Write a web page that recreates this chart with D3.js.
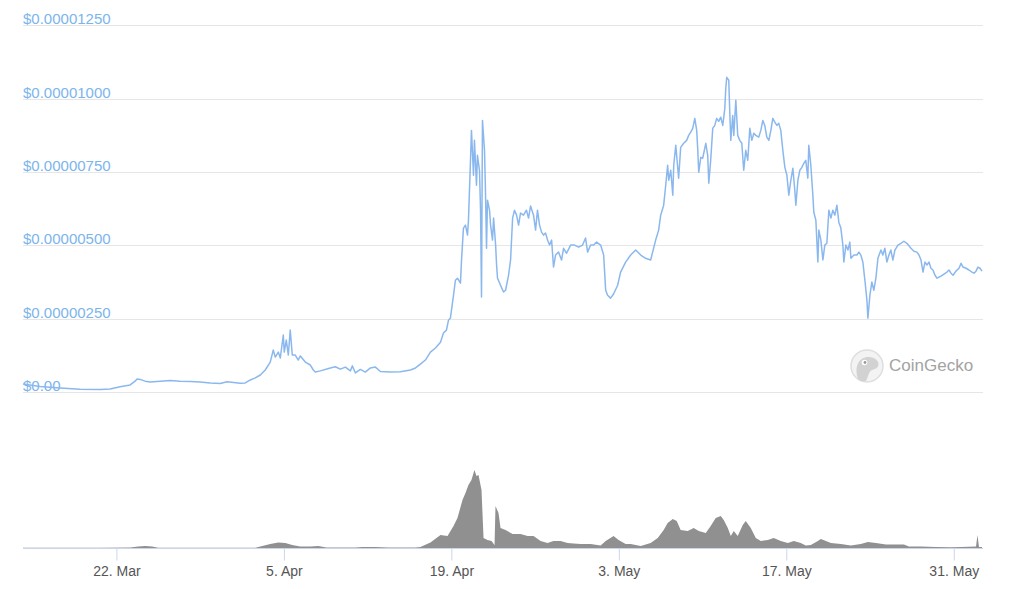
<!DOCTYPE html>
<html>
<head>
<meta charset="utf-8">
<script src="https://cdn.jsdelivr.net/npm/d3@7"></script>
<style>
  html, body { margin: 0; padding: 0; background: #ffffff; }
  svg { display: block; }
</style>
</head>
<body>
<svg id="chart" width="1024" height="589"></svg>
<script>
// ---- DATA ----
// Time is in days since 2021-03-14 00:00 UTC
const startDate = Date.UTC(2021, 2, 14);
// Price in millionths of a US dollar
const priceDays = [0.19,1.62,3.29,4.96,6.64,7.47,8.31,9.15,9.56,9.73,9.98,10.40,10.82,11.66,12.49,13.33,14.17,15.00,15.84,16.68,17.26,18.35,18.77,19.19,19.61,20.03,20.44,20.86,21.11,21.28,21.53,21.70,21.95,22.03,22.20,22.37,22.53,22.70,22.95,23.20,23.37,23.79,24.21,24.46,24.63,25.05,25.88,26.30,26.72,27.14,27.56,27.72,27.98,28.39,28.81,29.23,29.65,30.07,30.90,31.74,32.58,33.00,33.41,33.83,34.25,34.67,35.09,35.34,35.59,35.76,35.92,36.18,36.34,36.51,36.76,36.85,37.01,37.18,37.35,37.43,37.60,37.68,37.85,37.93,38.10,38.18,38.35,38.44,38.52,38.60,38.77,38.85,38.94,39.02,39.19,39.28,39.44,39.53,39.70,39.78,39.86,40.11,40.36,40.53,40.78,40.95,41.12,41.28,41.45,41.62,41.78,42.03,42.28,42.45,42.62,42.87,43.04,43.20,43.37,43.54,43.71,43.87,44.04,44.21,44.38,44.54,44.71,44.96,45.21,45.38,45.63,45.97,46.30,46.64,46.97,47.22,47.39,47.64,47.89,48.14,48.48,48.73,48.90,49.06,49.31,49.56,49.90,50.15,50.57,50.99,51.41,51.83,52.24,52.66,53.08,53.33,53.50,53.75,53.92,54.08,54.17,54.34,54.51,54.59,54.76,55.00,55.17,55.42,55.67,55.84,56.01,56.18,56.35,56.51,56.60,56.68,56.85,57.01,57.27,57.43,57.52,57.68,57.85,58.02,58.18,58.35,58.52,58.69,58.86,58.94,59.02,59.19,59.27,59.36,59.52,59.61,59.78,59.94,60.11,60.28,60.44,60.61,60.78,60.95,61.12,61.28,61.45,61.70,61.87,62.04,62.20,62.37,62.54,62.71,62.87,63.04,63.21,63.37,63.54,63.71,63.88,64.05,64.21,64.38,64.55,64.71,64.80,64.97,65.13,65.30,65.47,65.63,65.80,65.88,66.05,66.22,66.30,66.47,66.64,66.72,66.89,67.06,67.22,67.39,67.56,67.73,67.89,68.06,68.23,68.39,68.56,68.73,68.81,68.98,69.15,69.31,69.40,69.65,69.90,70.07,70.23,70.40,70.57,70.74,70.82,70.99,71.15,71.32,71.49,71.66,71.91,72.07,72.24,72.41,72.58,72.74,72.91,73.08,73.33,73.58,73.83,74.08,74.42,74.67,74.92,75.09,75.26,75.43,75.59,75.76,75.93,76.09,76.26,76.43,76.60,76.77,76.93,77.18,77.43,77.60,77.77,77.94,78.18,78.44,78.61,78.77,79.02,79.27,79.52,79.69,79.86,80.02,80.19,80.36];
const prices = [0.27,0.19,0.14,0.09,0.085,0.10,0.18,0.24,0.37,0.44,0.43,0.37,0.34,0.37,0.39,0.37,0.36,0.34,0.31,0.29,0.35,0.30,0.31,0.41,0.48,0.58,0.75,1.02,1.43,1.19,1.36,1.16,1.94,1.36,1.77,1.26,2.11,1.26,1.26,1.09,1.23,1.02,0.92,0.75,0.68,0.72,0.82,0.86,0.78,0.85,0.72,0.89,0.65,0.77,0.68,0.82,0.85,0.70,0.68,0.69,0.75,0.82,0.95,1.09,1.36,1.50,1.70,2.01,2.11,2.45,2.52,3.30,3.81,3.88,3.71,4.50,5.59,5.69,5.35,5.86,7.90,8.92,7.39,8.58,7.05,8.07,7.56,6.20,3.24,9.26,8.24,6.88,4.90,6.54,6.20,5.69,5.18,5.93,5.01,4.33,3.88,3.64,3.41,3.47,3.98,4.50,5.93,6.20,6.03,5.69,6.10,6.03,6.20,5.93,6.34,6.03,5.52,6.20,5.69,5.45,5.35,5.42,5.18,5.01,5.18,4.26,4.67,4.77,4.50,4.90,4.73,5.01,5.01,4.94,5.01,5.25,4.77,5.01,5.01,5.11,5.01,4.67,3.47,3.30,3.20,3.34,3.64,4.09,4.43,4.67,4.84,4.67,4.56,4.50,5.18,5.52,6.03,6.37,7.05,7.73,7.22,7.56,6.71,7.73,8.41,7.29,8.34,8.48,8.58,8.75,8.86,8.99,9.33,8.92,8.24,7.49,8.00,7.97,8.48,8.07,7.12,7.90,8.99,9.09,9.33,9.23,9.37,9.09,9.67,10.35,10.73,10.63,9.60,8.58,9.43,8.75,9.95,8.75,8.58,8.48,7.56,8.24,7.90,8.99,8.58,8.82,8.75,8.69,8.92,9.26,9.09,8.69,8.58,8.92,9.33,9.20,9.09,9.16,8.92,8.24,7.66,7.39,6.71,7.22,7.63,6.88,6.37,7.22,7.56,7.66,7.80,7.90,7.29,8.41,7.73,6.71,6.13,5.86,4.43,5.52,5.18,4.50,5.01,5.07,6.20,5.93,6.20,6.03,6.37,5.79,5.59,5.01,4.43,5.01,4.84,5.11,4.56,4.67,4.67,4.77,4.67,4.43,3.81,3.13,2.52,3.30,3.75,3.47,3.88,4.56,4.84,4.67,4.90,4.43,4.67,4.84,4.50,4.84,5.01,5.07,5.14,5.07,4.90,4.80,4.77,4.67,4.50,4.09,4.43,4.33,4.43,4.22,4.16,3.98,3.88,3.92,3.95,4.02,4.09,4.16,4.05,3.98,4.12,4.22,4.39,4.26,4.22,4.16,4.09,4.05,4.12,4.26,4.22,4.12];
// Volume in millions of US dollars (relative)
const volumeDays = [0.19,6.64,9.15,9.82,10.40,10.99,11.49,19.61,20.19,20.86,21.53,22.12,22.70,23.37,24.21,24.88,25.55,27.98,28.56,29.65,30.74,33.00,33.41,34.25,35.09,35.68,36.18,36.51,36.93,37.18,37.43,37.68,37.93,38.10,38.27,38.52,38.69,39.02,39.36,39.61,39.69,39.94,40.11,40.53,41.12,41.78,42.37,42.87,43.46,44.04,44.54,45.13,45.72,46.22,46.81,47.64,48.48,48.90,49.56,49.98,50.57,50.99,51.83,52.66,53.25,53.75,54.08,54.51,54.84,55.17,55.76,56.26,56.68,57.27,57.68,58.10,58.52,58.77,59.11,59.36,59.61,59.94,60.36,60.61,61.03,61.45,61.87,62.45,62.95,63.54,64.13,64.63,65.21,65.63,66.05,66.64,66.89,67.73,68.56,69.40,70.23,70.82,71.49,72.33,73.16,73.83,74.25,75.26,76.51,77.77,78.61,79.86,79.98,80.11,80.36];
const volumes = [0.3,0.3,0.4,1.5,2,1.5,0.3,0.3,2,4,5.5,5,3,1.5,1.5,2,0.5,0.5,1,1,0.5,0.5,1,5.5,13,12,22,30,48,55,63,68,78,72,73,58,10,8,7,3,42,35,20,18,14,14,12,12,7,5,7,7,5,4.5,4,4,2.5,7,12,8,4,4,2,5,10,18,25,29,27,18,17,20,17,15,22,30,32,28,20,12,17,12,23,27,20,10,7,8,10,7,5,7,5,2.5,3,7,9,5,4,2.5,4,6,5,3.5,3.5,3.5,1.5,1.5,1,0.7,1,1.5,13,1,1];
// Axis ticks
const priceTicks = [0, 2.5, 5, 7.5, 10, 12.5];
const priceTickLabels = ["$0.00", "$0.00000250", "$0.00000500", "$0.00000750", "$0.00001000", "$0.00001250"];
const dateTicks = ["2021-03-22", "2021-04-05", "2021-04-19", "2021-05-03", "2021-05-17", "2021-05-31"];

// ---- CHART ----
const toDate = d => new Date(startDate + d * 864e5);
const svg = d3.select("#chart");
const font = "'Liberation Sans', Arial, Helvetica, sans-serif";

const left = 23, right = 983;
const x = d3.scaleUtc()
  .domain([toDate(priceDays[0]), toDate(priceDays[priceDays.length - 1])])
  .range([left, 982]);
const y = d3.scaleLinear().domain([0, 12.5]).range([392, 25.4]);
const yv = d3.scaleLinear().domain([0, 80]).range([548, 468]);

// grid lines
svg.append("g").selectAll("line").data(priceTicks).join("line")
  .attr("x1", left).attr("x2", right)
  .attr("y1", d => Math.round(y(d)) + 0.5).attr("y2", d => Math.round(y(d)) + 0.5)
  .attr("stroke", "#e6e6e6").attr("stroke-width", 1);

// y labels
svg.append("g").selectAll("text").data(priceTicks).join("text")
  .attr("x", left).attr("y", d => Math.round(y(d)) - 1)
  .attr("font-family", font).attr("font-size", 15)
  .attr("fill", "#7cb5ec")
  .text((d, i) => priceTickLabels[i]);

// watermark logo
const logo = svg.append("g");
logo.append("circle").attr("cx", 867).attr("cy", 366).attr("r", 16)
  .attr("fill", "#f3f3f3").attr("stroke", "#dedede").attr("stroke-width", 1.5);
logo.append("path")
  .attr("d", "M858,379 C855,371 856,360 865,357.5 C873,355.5 879,360 878.5,365 C878,369 873,369 870.5,371 C868.5,373 868,377 866,381 C863,381.5 860,381 858,379 Z")
  .attr("fill", "#d2d2d2");
logo.append("circle").attr("cx", 864.5).attr("cy", 362.5).attr("r", 2.8).attr("fill", "#fff");
logo.append("circle").attr("cx", 865).attr("cy", 362.5).attr("r", 1.4).attr("fill", "#9a9a9a");
logo.append("text").attr("x", 889).attr("y", 371)
  .attr("font-family", font).attr("font-size", 17).attr("fill", "#a3a3a3")
  .text("CoinGecko");

// volume area
const volData = volumeDays.map((d, i) => ({ t: toDate(d), v: volumes[i] }));
svg.append("path").datum(volData)
  .attr("fill", "#909090")
  .attr("d", d3.area().x(d => x(d.t)).y0(yv(0)).y1(d => yv(d.v)));

// price line
const priceData = priceDays.map((d, i) => ({ t: toDate(d), v: prices[i] }));
svg.append("path").datum(priceData)
  .attr("fill", "none")
  .attr("stroke", "#8ab8ee").attr("stroke-width", 1.5)
  .attr("stroke-linejoin", "round")
  .attr("d", d3.line().x(d => x(d.t)).y(d => y(d.v)));

// x axis
const xAxis = d3.axisBottom(x)
  .tickValues(dateTicks.map(s => new Date(s + "T00:00:00Z")))
  .tickFormat(d3.utcFormat("%-d. %b"))
  .tickSize(12).tickSizeOuter(0).tickPadding(6);
const gx = svg.append("g").attr("transform", "translate(0,548.5)").call(xAxis);
gx.select(".domain").attr("stroke", "#ccd6eb").attr("d", `M${left},0H${right}`);
gx.selectAll(".tick line").attr("stroke", "#ccd6eb");
gx.selectAll(".tick text").attr("font-family", font).attr("font-size", 14).attr("fill", "#555");
</script>
</body>
</html>
